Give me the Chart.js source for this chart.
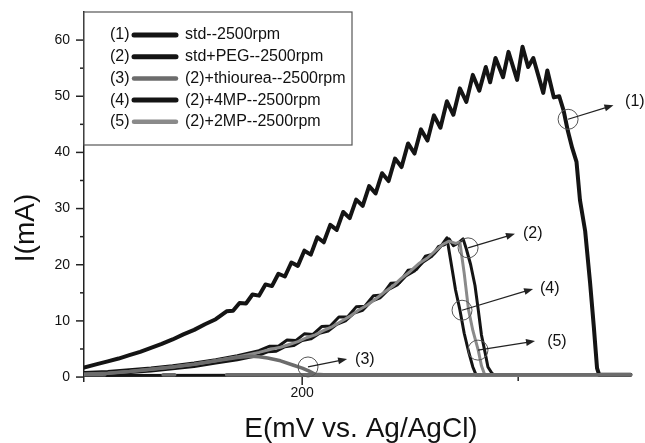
<!DOCTYPE html>
<html>
<head>
<meta charset="utf-8">
<script src="https://cdn.jsdelivr.net/npm/chart.js@4.4.1/dist/chart.umd.min.js"></script>
<style>
  html, body { margin: 0; padding: 0; background: #fff; }
</style>
</head>
<body>
<canvas id="chart" width="645" height="443"></canvas>
<script>
// (1) std--2500rpm
const e1 = [99,105,110,115,120,125,130,135,140,145,150,155,160,165,168,171,174,177,180,183,186,189,192,195,198,201,204,207,210,213,216,219,222,225,228,231,234,237,240,243,246,249,252,255,258,261,264,267,270,273,276,279,282,285,287,289.5,293,295.5,299.5,302,304.6,307,311.6,313.5,316.5,319,321,323,325,327,328.6,331,333.3,335,336.5,337.5,352];
const i1 = [1.7,2.3,2.8,3.3,3.9,4.5,5.2,5.9,6.7,7.6,8.4,9.4,10.3,11.7,11.8,13.2,13.1,14.7,14.5,16.5,16.2,18.4,17.9,20.4,19.8,22.5,21.8,24.9,24.0,27.1,26.2,29.4,28.3,31.6,30.5,34.0,32.7,36.3,34.9,38.9,37.4,41.6,39.8,44.1,42.1,46.6,44.4,49.1,46.7,51.4,49.0,53.8,51.0,55.2,52.5,56.8,53.4,57.9,52.9,58.8,55.2,56.8,50.6,54.6,49.8,50.0,47.5,43.8,40.8,38.3,31.5,26.0,16.7,9.0,1.6,0.4,0.4];

// (2) std+PEG--2500rpm (scan back along the baseline at the end)
const e2 = [99,110,120,130,140,150,160,170,180,184,188,192,196,200,204,208,212,216,220,224,228,232,236,240,244,248,252,256,260,263,266,268,270,272,274.5,276,278,280,281.5,283,284.7,286,288,289,352,99];
const i2 = [0.3,0.5,0.8,1.1,1.5,1.9,2.5,3.1,3.9,4.5,4.6,5.4,5.6,6.5,6.8,7.8,8.2,9.4,10.0,11.4,11.9,13.5,14.1,15.6,16.4,18.0,18.9,20.5,21.5,23.2,23.6,24.6,23.4,23.8,24.6,22.8,20.0,16.3,12.0,7.5,4.3,1.8,0.6,0.4,0.4,0.3];

// (3) (2)+thiourea--2500rpm (baseline return has two gaps)
const e3 = [99,110,120,130,140,150,160,170,176,180,184,190,196,200,203,206,210,214,352,165,153,141,135.6,122,108.7,99];
const i3 = [0.5,0.7,1.0,1.4,1.8,2.3,2.9,3.5,3.7,3.6,3.4,2.9,2.1,1.6,1.1,0.5,0.4,0.4,0.4,0.4,null,0.4,0.4,null,0.4,0.4];

// (4) (2)+4MP--2500rpm
const e4 = [99,110,120,130,140,150,160,170,180,185,189,193,197,201,205,209,213,217,221,225,229,233,237,241,245,249,253,257,261,264,265.5,267,269.5,271,273,275,277,279,280.5,352];
const i4 = [0.8,1.0,1.3,1.6,2.0,2.5,3.1,3.8,4.7,5.5,5.5,6.6,6.5,7.7,7.6,9.0,9.1,10.7,10.7,12.5,12.6,14.5,14.6,16.7,16.8,19.0,19.2,21.5,21.9,23.2,24.0,24.8,19.0,15.5,12.0,7.8,4.6,1.8,0.4,0.4];

// (5) (2)+2MP--2500rpm
const e5 = [99,110,120,130,140,150,160,170,180,186,190,194,198,202,206,210,214,218,222,226,230,234,238,242,246,250,254,258,262,265,268,271,273,275,277,279,281.5,283,284.5,352];
const i5 = [0.5,0.7,1.0,1.4,1.8,2.3,2.9,3.6,4.4,5.0,5.3,5.8,6.3,7.0,7.5,8.3,9.0,9.9,10.8,11.9,12.8,13.9,15.1,16.2,17.6,18.8,20.2,21.2,22.6,23.6,24.2,23.8,24.0,18.5,12.0,8.3,4.8,2.0,0.4,0.4];

const tags = ['(1)', '(2)', '(3)', '(4)', '(5)'];
const names = ['std--2500rpm', 'std+PEG--2500rpm', '(2)+thiourea--2500rpm', '(2)+4MP--2500rpm', '(2)+2MP--2500rpm'];
const colors = ['#141414', '#141414', '#6c6c6c', '#141414', '#8a8a8a'];

const xTicks = [200, 300];
const xTickLabels = ['200', ''];
const yTicks = [0, 10, 20, 30, 40, 50, 60];
const yMinor = [5, 15, 25, 35, 45, 55];

// callouts: circle on curve, arrow tip, label (data units)
const callouts = [
  { tag: '(1)', cx: 323.1, cy: 45.9, ax: 344.1, ay: 48.4, lx: 349.5, ly: 49.0 },
  { tag: '(2)', cx: 276.8, cy: 23.0, ax: 298.5, ay: 25.5, lx: 302.2, ly: 25.5 },
  { tag: '(4)', cx: 274.0, cy: 11.9, ax: 306.9, ay: 15.7, lx: 310.1, ly: 15.7 },
  { tag: '(5)', cx: 281.4, cy: 4.8, ax: 307.8, ay: 6.4, lx: 313.4, ly: 6.4 },
  { tag: '(3)', cx: 202.7, cy: 1.8, ax: 220.8, ay: 3.2, lx: 224.5, ly: 3.2 }
];

const FONT = '"Liberation Sans", Arial, sans-serif';

function pts(xs, ys) {
  return xs.map((x, k) => ({ x: x, y: ys[k] }));
}

const series = [
  { data: pts(e1, i1), width: 4, order: 4 },
  { data: pts(e2, i2), width: 3, order: 3 },
  { data: pts(e3, i3), width: 3.5, order: 0 },
  { data: pts(e4, i4), width: 3, order: 2 },
  { data: pts(e5, i5), width: 3, order: 1 }
];

const extras = {
  id: 'extras',
  afterDraw(chart) {
    const { ctx, chartArea, scales: { x, y } } = chart;
    const line = (x0, y0, x1, y1) => { ctx.beginPath(); ctx.moveTo(x0, y0); ctx.lineTo(x1, y1); ctx.stroke(); };
    ctx.save();

    // axis tick marks
    ctx.strokeStyle = '#222';
    ctx.lineWidth = 1.5;
    const left = chartArea.left;
    yTicks.forEach(v => { const py = y.getPixelForValue(v); line(left - 8, py, left, py); });
    yMinor.forEach(v => { const py = y.getPixelForValue(v); line(left - 4, py, left, py); });
    const y0 = y.getPixelForValue(0);
    xTicks.forEach((v, k) => { const px = x.getPixelForValue(v); line(px, y0, px, y0 + (k === 0 ? 8 : 4)); });

    // legend box
    ctx.fillStyle = '#fff';
    ctx.fillRect(left, chartArea.top, 268, 133);
    ctx.strokeStyle = '#555';
    ctx.lineWidth = 1.2;
    ctx.strokeRect(left, chartArea.top, 268, 133);
    ctx.font = '16px ' + FONT;
    ctx.textBaseline = 'middle';
    ctx.textAlign = 'left';
    tags.forEach((t, k) => {
      const ry = 35 + k * 21.7;
      ctx.fillStyle = '#111';
      ctx.fillText(t, 110, ry);
      ctx.fillText(names[k], 185, ry);
      ctx.strokeStyle = colors[k];
      ctx.lineWidth = colors[k] === '#141414' ? 5 : 4.5;
      ctx.lineCap = 'round';
      line(134, ry, 176, ry);
    });
    ctx.lineCap = 'butt';

    // callouts
    callouts.forEach(c => {
      const cx = x.getPixelForValue(c.cx), cy = y.getPixelForValue(c.cy);
      const ax = x.getPixelForValue(c.ax), ay = y.getPixelForValue(c.ay);
      ctx.strokeStyle = '#555';
      ctx.lineWidth = 1;
      ctx.beginPath();
      ctx.arc(cx, cy, 10, 0, Math.PI * 2);
      ctx.stroke();
      ctx.strokeStyle = '#222';
      ctx.lineWidth = 1.2;
      const ang = Math.atan2(ay - cy, ax - cx);
      line(cx, cy, ax - 8 * Math.cos(ang), ay - 8 * Math.sin(ang));
      ctx.fillStyle = '#222';
      ctx.beginPath();
      ctx.moveTo(ax, ay);
      ctx.lineTo(ax - 9 * Math.cos(ang) + 3.5 * Math.sin(ang), ay - 9 * Math.sin(ang) - 3.5 * Math.cos(ang));
      ctx.lineTo(ax - 9 * Math.cos(ang) - 3.5 * Math.sin(ang), ay - 9 * Math.sin(ang) + 3.5 * Math.cos(ang));
      ctx.closePath();
      ctx.fill();
      ctx.fillStyle = '#111';
      ctx.font = '16px ' + FONT;
      ctx.textAlign = 'left';
      ctx.textBaseline = 'middle';
      ctx.fillText(c.tag, x.getPixelForValue(c.lx), y.getPixelForValue(c.ly));
    });

    // axis titles
    ctx.fillStyle = '#111';
    ctx.font = '28px ' + FONT;
    ctx.textAlign = 'center';
    ctx.textBaseline = 'alphabetic';
    ctx.fillText('E(mV vs. Ag/AgCl)', 361, 437);
    ctx.translate(34, 228);
    ctx.rotate(-Math.PI / 2);
    ctx.fillText('I(mA)', 0, 0);
    ctx.restore();
  }
};

new Chart(document.getElementById('chart'), {
  type: 'line',
  data: {
    datasets: series.map((s, k) => ({
      label: names[k],
      data: s.data,
      borderColor: colors[k],
      borderWidth: s.width,
      borderJoinStyle: 'round',
      borderCapStyle: 'round',
      pointRadius: 0,
      tension: 0,
      fill: false,
      spanGaps: false,
      order: s.order
    }))
  },
  options: {
    responsive: false,
    animation: false,
    devicePixelRatio: 1,
    layout: { padding: { top: 12, right: 8, left: 0, bottom: 0 } },
    plugins: { legend: { display: false }, tooltip: { enabled: false } },
    scales: {
      x: {
        type: 'linear',
        min: 99,
        max: 355,
        grid: { display: false, drawTicks: false },
        border: { display: false },
        ticks: {
          padding: 4,
          maxRotation: 0,
          autoSkip: false,
          color: '#111',
          font: { family: FONT, size: 14 },
          callback: (v) => xTickLabels[xTicks.indexOf(v)] || ''
        },
        afterBuildTicks: (s) => { s.ticks = xTicks.map(v => ({ value: v })); },
        afterFit: (s) => { s.height = 62; s.paddingLeft = 0; s.paddingRight = 0; }
      },
      y: {
        min: -0.7,
        max: 65,
        grid: { display: false, drawTicks: true, tickLength: 14 },
        border: { display: true, color: '#222', width: 1.5 },
        ticks: {
          padding: 0,
          color: '#111',
          font: { family: FONT, size: 14 }
        },
        afterBuildTicks: (s) => { s.ticks = yTicks.map(v => ({ value: v })); },
        afterFit: (s) => { s.width = 84; s.paddingTop = 0; s.paddingBottom = 0; }
      }
    }
  },
  plugins: [extras]
});
</script>
</body>
</html>
